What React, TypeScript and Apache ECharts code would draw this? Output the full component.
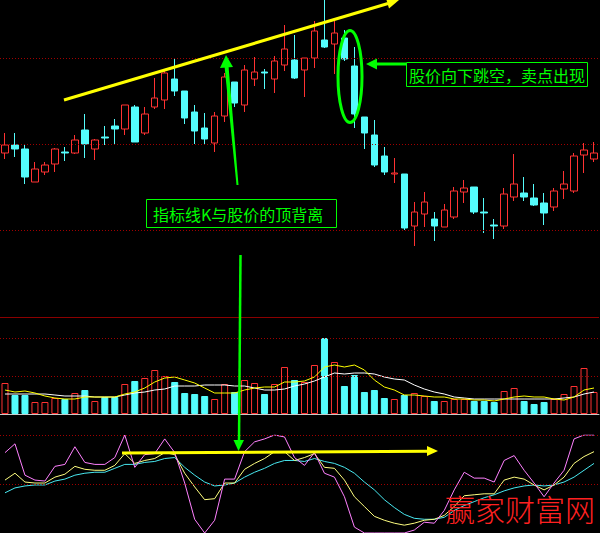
import React, { useEffect, useRef } from 'react';
import * as echarts from 'echarts';

// ---------- data ----------
const days = Array.from({ length: 60 }, (_, i) => `D${i + 1}`);

const opens = [
  8.47, 8.55, 8.51, 8.18, 8.28, 8.36, 8.48, 8.47, 8.70, 8.51,
  8.63, 8.74, 8.71, 8.93, 8.67, 8.93, 9.00, 9.21, 9.09, 8.88,
  8.72, 8.57, 8.84, 9.18, 8.95, 9.21, 9.28, 9.21, 9.35, 9.40,
  9.30, 9.42, 9.60, 9.56, 9.62, 9.34, 8.83, 8.65, 8.44, 8.26,
  8.26, 7.74, 7.86, 7.81, 7.73, 7.83, 8.08, 8.13, 7.88, 7.75,
  7.74, 8.03, 8.07, 8.02, 7.97, 7.93, 8.11, 8.09, 8.45, 8.41,
];
const closes = [
  8.55, 8.51, 8.23, 8.31, 8.35, 8.51, 8.47, 8.60, 8.56, 8.60,
  8.62, 8.71, 8.95, 8.58, 8.86, 9.02, 9.27, 9.09, 8.82, 8.69,
  8.61, 8.84, 9.23, 8.97, 9.30, 9.28, 9.27, 9.39, 9.51, 9.22,
  9.42, 9.69, 9.53, 9.67, 9.41, 8.86, 8.67, 8.35, 8.28, 8.27,
  7.72, 7.88, 7.98, 7.74, 7.90, 8.09, 8.12, 7.88, 7.87, 7.74,
  8.06, 8.16, 8.03, 7.95, 7.87, 8.09, 8.16, 8.44, 8.50, 8.47,
];
const lows = [
  8.41, 8.43, 8.16, 8.18, 8.25, 8.28, 8.39, 8.46, 8.42, 8.40,
  8.55, 8.55, 8.65, 8.58, 8.65, 8.91, 8.91, 9.04, 8.76, 8.56,
  8.56, 8.48, 8.78, 8.93, 8.88, 9.14, 9.11, 9.07, 9.29, 9.21,
  9.03, 9.32, 9.52, 9.26, 9.39, 8.72, 8.51, 8.33, 8.25, 8.17,
  7.70, 7.54, 7.73, 7.59, 7.73, 7.81, 7.97, 7.86, 7.67, 7.61,
  7.71, 7.99, 7.99, 7.94, 7.75, 7.89, 8.01, 8.07, 8.27, 8.38,
];
const highs = [
  8.67, 8.67, 8.56, 8.38, 8.38, 8.52, 8.53, 8.65, 8.86, 8.61,
  8.74, 8.81, 8.95, 8.95, 8.93, 9.22, 9.29, 9.42, 9.09, 8.95,
  8.87, 8.88, 9.27, 9.18, 9.35, 9.43, 9.31, 9.44, 9.75, 9.65,
  9.42, 9.79, 10.00, 9.79, 9.70, 9.53, 8.83, 8.80, 8.53, 8.42,
  8.26, 7.98, 8.08, 7.88, 7.96, 8.13, 8.20, 8.13, 8.02, 7.81,
  8.12, 8.46, 8.23, 8.16, 8.07, 8.12, 8.29, 8.47, 8.57, 8.58,
];
const priceGridLines = [9.42, 8.56, 7.70];

const volumes = [
  3.1, 1.9, 1.9, 1.2, 1.2, 1.6, 1.5, 2.1, 2.4, 1.3,
  1.7, 1.7, 3.0, 3.3, 3.6, 4.4, 3.8, 3.2, 2.1, 2.0,
  1.8, 1.5, 3.0, 2.2, 3.4, 3.1, 2.0, 3.0, 4.7, 3.4,
  3.2, 4.9, 7.6, 5.2, 2.8, 3.9, 2.2, 2.4, 1.6, 1.5,
  1.9, 2.1, 1.8, 1.3, 1.3, 1.5, 1.5, 1.3, 1.3, 1.2,
  2.3, 2.6, 1.3, 1.0, 1.2, 1.5, 2.0, 2.8, 4.6, 2.2,
];
const volMa5 = [
  2.4, 2.2, 2.3, 2.1, 1.8, 1.6, 1.5, 1.5, 1.7, 1.7,
  1.7, 1.7, 2.0, 2.2, 2.6, 3.2, 3.6, 3.7, 3.4, 3.1,
  2.6, 2.1, 2.1, 2.1, 2.4, 2.6, 2.7, 2.7, 3.2, 3.2,
  3.3, 3.7, 4.7, 4.9, 4.7, 4.9, 4.4, 3.4, 2.7, 2.4,
  1.9, 1.9, 1.8, 1.7, 1.7, 1.5, 1.5, 1.4, 1.4, 1.3,
  1.5, 1.7, 1.8, 1.7, 1.7, 1.5, 1.4, 1.7, 2.4, 2.6,
];
const volMa10 = [
  2.0, 2.0, 2.0, 2.0, 2.0, 1.9, 1.8, 1.8, 1.8, 1.7,
  1.7, 1.7, 1.9, 2.1, 2.2, 2.4, 2.5, 2.8, 2.8, 2.8,
  2.9, 2.9, 2.9, 2.8, 2.8, 2.6, 2.4, 2.4, 2.5, 2.8,
  3.0, 3.3, 3.7, 4.1, 4.0, 4.1, 4.1, 4.0, 3.7, 3.5,
  3.4, 2.9, 2.5, 2.2, 2.0, 1.7, 1.6, 1.5, 1.5, 1.5,
  1.5, 1.5, 1.5, 1.5, 1.5, 1.5, 1.6, 1.7, 2.0, 2.2,
];
const volGridLines = [3.8, 7.6];
const volTop = 9.7;

const kValues = [
  54, 61, 52, 51, 51, 57, 60, 68, 65, 64,
  64, 69, 81, 71, 74, 76, 82, 80, 61, 47,
  34, 35, 51, 51, 65, 71, 76, 83, 83, 74,
  77, 81, 67, 66, 54, 37, 27, 17, 13, 10,
  8, 10, 13, 14, 18, 27, 38, 39, 40, 40,
  54, 57, 55, 49, 44, 49, 57, 71, 78, 83,
];
const dValues = [
  41, 46, 48, 49, 49, 53, 55, 59, 61, 62,
  62, 66, 70, 70, 72, 73, 76, 77, 67, 59,
  52, 48, 49, 51, 57, 62, 66, 71, 74, 74,
  73, 76, 73, 71, 67, 61, 52, 44, 34, 26,
  19, 15, 14, 14, 16, 23, 28, 32, 36, 39,
  43, 46, 48, 49, 48, 49, 52, 57, 64, 71,
];
const jValues = [
  82, 91, 59, 54, 53, 68, 70, 88, 72, 70,
  70, 77, 100, 67, 80, 81, 96, 82, 51, 14,
  0, 13, 55, 55, 83, 93, 96, 100, 98, 77,
  69, 82, 61, 57, 37, 6, 0, 0, 0, 0,
  0, 3, 11, 10, 23, 44, 62, 56, 56, 52,
  74, 79, 64, 51, 37, 51, 64, 96, 100, 100,
];
const kdjGridLines = [100, 50];

// ---------- styles ----------
const RED = '#ff3232';
const CYAN = '#54fcfc';
const GREEN = '#00ff00';
const YELLOW = '#ffff00';
const DOT = { color: '#a00000', type: [1, 2] as any, width: 1 };
const CJK = '"Noto Sans CJK SC", "Noto Sans", sans-serif';

export default function App() {
  const ref = useRef<HTMLDivElement>(null);

  useEffect(() => {
    document.body.style.margin = '0';
    document.body.style.background = '#000';
    const chart = echarts.init(ref.current!, undefined, { renderer: 'svg' });

    const candleData = days.map((_, i) => [opens[i], closes[i], lows[i], highs[i]]);
    const volData = volumes.map((v, i) => ({
      value: v,
      itemStyle:
        closes[i] >= opens[i]
          ? { color: '#000', borderColor: RED, borderWidth: 1 }
          : { color: CYAN, borderColor: CYAN, borderWidth: 1 },
    }));

    const hiddenX = (gridIndex: number, showLine = false) => ({
      type: 'category',
      gridIndex,
      data: days,
      boundaryGap: true,
      axisLine: { show: showLine, lineStyle: { color: '#c8c8c8', width: 1 } },
      axisTick: { show: false },
      axisLabel: { show: false },
      splitLine: { show: false },
    });

    const markLineBase = {
      silent: true,
      symbol: ['none', 'none'],
      label: { show: false },
      lineStyle: DOT,
      animation: false,
    };

    chart.setOption({
      animation: false,
      backgroundColor: '#000',
      grid: [
        { left: -1, right: 1, top: 0, height: 250 },
        { left: -1, right: 1, top: 317, height: 97 },
        { left: -1, right: 1, top: 435, height: 98 },
      ],
      xAxis: [hiddenX(0), hiddenX(1, true), hiddenX(2)],
      yAxis: [
        { gridIndex: 0, min: 7.5, max: 10, show: false },
        { gridIndex: 1, min: 0, max: volTop, show: false },
        { gridIndex: 2, min: 0, max: 100, show: false },
      ],
      series: [
        {
          type: 'candlestick',
          xAxisIndex: 0,
          yAxisIndex: 0,
          data: candleData,
          barWidth: 7,
          clip: false,
          itemStyle: {
            color: '#000',
            color0: CYAN,
            borderColor: RED,
            borderColor0: CYAN,
            borderWidth: 1,
          },
          markLine: { ...markLineBase, data: priceGridLines.map((v) => ({ yAxis: v })) },
        },
        {
          type: 'bar',
          xAxisIndex: 1,
          yAxisIndex: 1,
          data: volData,
          barWidth: 7,
          markLine: {
            ...markLineBase,
            data: [
              ...volGridLines.map((v) => ({ yAxis: v })),
              { yAxis: volTop, lineStyle: { color: '#8b0000', type: 'solid', width: 1 } },
            ],
          },
        },
        {
          type: 'line', xAxisIndex: 1, yAxisIndex: 1, data: volMa10, symbol: 'none',
          lineStyle: { color: '#ffffff', width: 1 },
        },
        {
          type: 'line', xAxisIndex: 1, yAxisIndex: 1, data: volMa5, symbol: 'none',
          lineStyle: { color: YELLOW, width: 1 },
        },
        {
          type: 'line', xAxisIndex: 2, yAxisIndex: 2, data: dValues, symbol: 'none',
          lineStyle: { color: '#48e8f0', width: 1 },
          markLine: { ...markLineBase, data: kdjGridLines.map((v) => ({ yAxis: v })) },
        },
        {
          type: 'line', xAxisIndex: 2, yAxisIndex: 2, data: kValues, symbol: 'none',
          lineStyle: { color: '#ffff80', width: 1 },
        },
        {
          type: 'line', xAxisIndex: 2, yAxisIndex: 2, data: jValues, symbol: 'none',
          lineStyle: { color: '#ff80ff', width: 1 },
        },
      ],
      graphic: [
        // yellow trend line with arrow on price panel
        { type: 'line', z: 100, shape: { x1: 64, y1: 100, x2: 388, y2: 3.5 }, style: { stroke: YELLOW, lineWidth: 3 } },
        { type: 'polygon', z: 100, shape: { points: [[399, 0], [386, -1.8], [389, 8.5]] }, style: { fill: YELLOW } },
        // ellipse around the gap
        { type: 'ellipse', z: 100, shape: { cx: 350, cy: 76.5, rx: 12, ry: 46 }, style: { fill: 'none', stroke: GREEN, lineWidth: 3 } },
        // left arrow to gap
        { type: 'line', z: 100, shape: { x1: 406, y1: 64, x2: 374, y2: 64 }, style: { stroke: GREEN, lineWidth: 3 } },
        { type: 'polygon', z: 100, shape: { points: [[366, 64], [377, 58.5], [377, 69.5]] }, style: { fill: GREEN } },
        // text box: gap
        { type: 'rect', z: 100, shape: { x: 406.5, y: 62.5, width: 181, height: 24 }, style: { fill: 'none', stroke: GREEN, lineWidth: 1 } },
        {
          type: 'text', z: 101, x: 409, y: 75,
          style: { text: '股价向下跳空，卖点出现', fill: GREEN, fontSize: 16, fontFamily: CJK, verticalAlign: 'middle' },
        },
        // up arrow to the trend line
        { type: 'polygon', z: 100, shape: { points: [[224.5, 66], [228.5, 66], [238.5, 185], [236.5, 185]] }, style: { fill: GREEN } },
        { type: 'polygon', z: 100, shape: { points: [[226, 55], [220, 68], [233, 67]] }, style: { fill: GREEN } },
        // text box: divergence
        { type: 'rect', z: 100, shape: { x: 146.5, y: 199.5, width: 190, height: 28 }, style: { fill: 'none', stroke: GREEN, lineWidth: 1 } },
        {
          type: 'text', z: 101, x: 153, y: 213.5,
          style: { text: '指标线K与股价的顶背离', fill: GREEN, fontSize: 16, fontFamily: CJK, verticalAlign: 'middle' },
        },
        // down arrow into KDJ panel
        { type: 'line', z: 100, shape: { x1: 240.5, y1: 255, x2: 239, y2: 442 }, style: { stroke: GREEN, lineWidth: 2.5 } },
        { type: 'polygon', z: 100, shape: { points: [[238.5, 451], [233.5, 440], [244, 440]] }, style: { fill: GREEN } },
        // yellow horizontal arrow in KDJ panel
        { type: 'line', z: 100, shape: { x1: 122, y1: 453, x2: 428, y2: 451.3 }, style: { stroke: YELLOW, lineWidth: 3 } },
        { type: 'polygon', z: 100, shape: { points: [[438, 451], [427, 446], [427, 456]] }, style: { fill: YELLOW } },
        // watermark
        {
          type: 'text', z: 102, x: 445, y: 508,
          style: { text: '赢家财富网', fill: '#ff2020', fontSize: 30, fontWeight: 300, fontFamily: CJK, verticalAlign: 'middle' },
        },
      ],
    });

    return () => chart.dispose();
  }, []);

  return (
    <div
      ref={ref}
      style={{ position: 'fixed', left: 0, top: 0, width: 600, height: 533, background: '#000' }}
    />
  );
}
